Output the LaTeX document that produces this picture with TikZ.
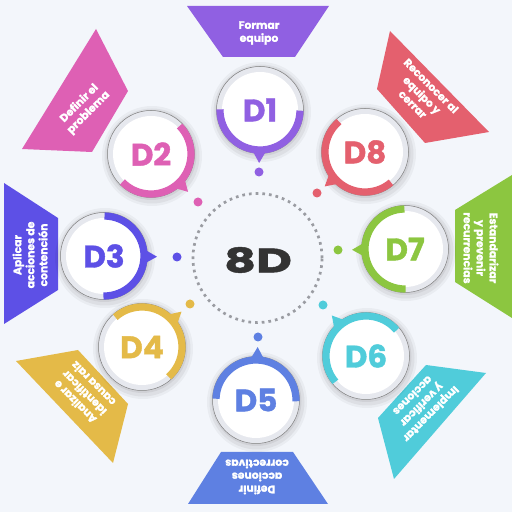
\documentclass[tikz,border=0pt]{standalone}
\usepackage{fontspec}
\setmainfont{Poppins}[BoldFeatures={FakeBold=1.3}]
\usetikzlibrary{calc}
\definecolor{bg}{HTML}{F3F6FB}
\definecolor{ringgray}{HTML}{E6E8EE}
\definecolor{dotgray}{HTML}{9A9CA2}
\definecolor{darktext}{HTML}{333333}
\definecolor{cA}{HTML}{9060E2}
\definecolor{cB}{HTML}{DE60B4}
\definecolor{cC}{HTML}{5D50E6}
\definecolor{cD}{HTML}{E4BA48}
\definecolor{cE}{HTML}{5E80E2}
\definecolor{cF}{HTML}{50CCDA}
\definecolor{cG}{HTML}{8CC640}
\definecolor{cH}{HTML}{E4606E}
\tikzset{
  traptext/.style={text=white, font=\bfseries\fontsize{10.8}{13}\selectfont, align=center, inner sep=0pt},
  dlabel/.style={font=\bfseries\fontsize{31}{31}\selectfont, inner sep=0pt},
  centerlabel/.style={font=\bfseries\fontsize{34}{34}\selectfont, text=darktext, inner sep=0pt, xscale=1.45},
  dotring/.style={draw=dotgray, line width=2.7pt, dash pattern=on 2.7pt off 4pt},
}
\newcommand\dring[5]{%
  \coordinate (c#1) at (#2);
  \coordinate (p#1) at (#3);
  \fill[black,opacity=.04] ($(c#1)+(1,-2)$) circle (50pt);
  \fill[black,opacity=.05] ($(c#1)+(1,-2)$) circle (47.5pt);
  \fill[black,opacity=.06] ($(c#1)+(0.5,-1)$) circle (45pt);
  \fill[ringgray] (c#1) circle (43.5pt);
  \draw[black!50, line width=.5pt] (c#1) circle (43.5pt);
  \fill[white] (c#1) circle (38pt);
  \draw[#4, line width=7.2pt] let \p1=($(p#1)-(c#1)$), \n1={atan2(\y1,\x1)} in
     ($(c#1)+(\n1-90:40pt)$) arc[start angle=\n1-90, end angle=\n1+90, radius=40pt];
  \fill[#4] let \p1=($(p#1)-(c#1)$), \n1={atan2(\y1,\x1)} in
     ($(c#1)+(\n1+10:41pt)$) -- ($(c#1)+(\n1:53pt)$) -- ($(c#1)+(\n1-10:41pt)$) -- cycle;
  \node[dlabel, text=#4] (l#1) at (c#1) {#5};
  \fill[#4] (p#1) circle (4.5pt);
}
\begin{document}
\begin{tikzpicture}[x=1pt,y=1pt]
\fill[bg] (0,0) rectangle (512,512);
\useasboundingbox (0,0) rectangle (512,512);

% trapezoids
\fill[cA] (187,506) -- (329,506) -- (295,455) -- (223,455) -- cycle;
\fill[cB] (96,483) -- (128,421) -- (92,360) -- (22,363) -- cycle;
\fill[cC] (4,329) -- (58,294) -- (58,222) -- (4,188) -- cycle;
\fill[cD] (16,151) -- (78,162) -- (128,108) -- (113,49) -- cycle;
\fill[cE] (221,60) -- (293,60) -- (328,8) -- (188,8) -- cycle;
\fill[cF] (486,139) -- (426,147) -- (378,94) -- (394,33) -- cycle;
\fill[cG] (455,302) -- (512,337) -- (512,194) -- (455,230) -- cycle;
\fill[cH] (390,481) -- (489,380) -- (425,369) -- (377,423) -- cycle;

\node[traptext] (t1) at (259,479) {Formar\\equipo};
\node[traptext, rotate=45] (t2) at (84,404) {Definir el\\problema};
\node[traptext, rotate=90] (t3) at (30,257) {Aplicar\\acciones de\\contención};
\node[traptext, rotate=135] (t4) at (84,119) {Analizar e\\identificar\\causa raiz};
\node[traptext, rotate=180] (t5) at (257,35) {Definir\\acciones\\correctivas};
\node[traptext, rotate=225] (t6) at (422,107) {Implementar\\y verificar\\acciones};
\node[traptext, rotate=270] (t7) at (481,264) {Estandarizar\\y prevenir\\recurrencias};
\node[traptext, rotate=-45] (t8) at (422,417) {Reconocer al\\equipo y\\cerrar};

% rings
\dring{1}{260,402}{259,340}{cA}{D1}
\dring{2}{151,358}{198,310}{cB}{D2}
\dring{3}{104,256}{177,255}{cC}{D3}
\dring{4}{142,165}{190,208}{cD}{D4}
\dring{5}{256,112}{258,175}{cE}{D5}
\dring{6}{366,156}{323,207}{cF}{D6}
\dring{7}{405,263}{338,262}{cG}{D7}
\dring{8}{365,360}{317,319}{cH}{D8}

% center
\coordinate (ctr) at (257.5,254);
\draw[dotring] (ctr) circle (64.5pt);
\node[centerlabel] (eightd) at (258,252) {8D};
\end{tikzpicture}
\end{document}
